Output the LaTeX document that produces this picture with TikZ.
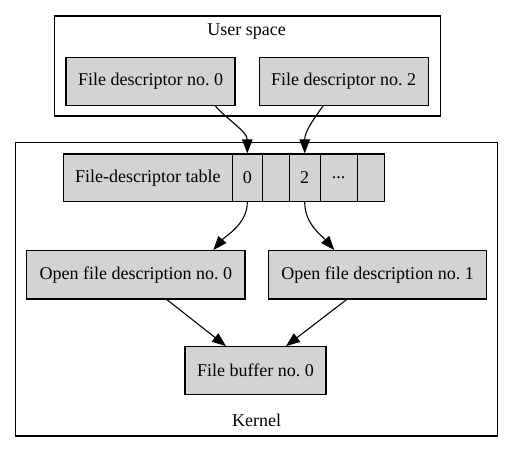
\documentclass[tikz,border=0pt]{standalone}
\usepackage{fontspec}
\setmainfont{Liberation Serif}
\usetikzlibrary{arrows.meta,calc}
\definecolor{boxgray}{RGB}{211,211,211}
\newcommand{\celldots}{...}
\tikzset{
  box/.style={draw, fill=boxgray, line width=1.1pt, inner sep=0pt, minimum height=47.7pt},
  cluster/.style={draw, line width=1.1pt, inner sep=0pt},
  link/.style={line width=1.1pt, -{Triangle[length=14pt,width=10.5pt]}}
}

\begin{document}
\begin{tikzpicture}[x=1pt, y=-1pt, font=\fontsize{18}{21}\selectfont]
\useasboundingbox (0,0) rectangle (513,452);
% clusters
\node[cluster, minimum width=385.7pt, minimum height=100pt] (user) at (247.2,66) {};
\node (userlab) at (246.7,31.7) {User space};
\node[cluster, minimum width=482pt, minimum height=293.3pt] (kernel) at (256.7,289.3) {};
\node (kernellab) at (256.7,420) {Kernel};
% user space descriptors
\node[box, minimum width=169pt] (fdzero) at (150.5,81.2) {File descriptor no.~0};
\node[box, minimum width=169.3pt] (fdtwo) at (343.7,81.2) {File descriptor no.~2};
% descriptor table
\node[box, minimum width=169pt] (tlabel) at (147.8,177.8) {File-descriptor table};
\foreach \name/\x/\w/\lab in {tzero/247.3/30/0, tone/275.8/27/{}, ttwo/304.7/30.7/2, tthree/338.7/37.3/\celldots, tfour/370.7/26.7/{}} {
  \node[box, minimum width=\w pt] (\name) at (\x,177.8) {\lab};
}
% open file descriptions and buffer
\node[box, minimum width=218.3pt, minimum height=48.3pt] (ofdzero) at (135.8,274.8) {Open file description no.~0};
\node[box, minimum width=218.4pt, minimum height=48.3pt] (ofdone) at (377.5,274.8) {Open file description no.~1};
\node[box, minimum width=141pt] (fbzero) at (255.5,370.5) {File buffer no.~0};
% edges
\draw[link] ($(fdzero.south)+(64.5,0)$) .. controls +(12,14) and +(0,-22) .. (tzero.north);
\draw[link] ($(fdtwo.south)+(-20.4,0)$) .. controls +(-10,14) and +(0,-22) .. (ttwo.north);
\draw[link] (tzero.south) .. controls +(0,22) and +(12,-14) .. ($(ofdzero.north)+(77.5,0)$);
\draw[link] (ttwo.south) .. controls +(0,22) and +(-12,-14) .. ($(ofdone.north)+(-43.2,0)$);
\draw[link] ($(ofdzero.south)+(30.9,0)$) -- ($(fbzero.north)+(-29.5,0)$);
\draw[link] ($(ofdone.south)+(-30.8,0)$) -- ($(fbzero.north)+(30.5,0)$);
\end{tikzpicture}
\end{document}
